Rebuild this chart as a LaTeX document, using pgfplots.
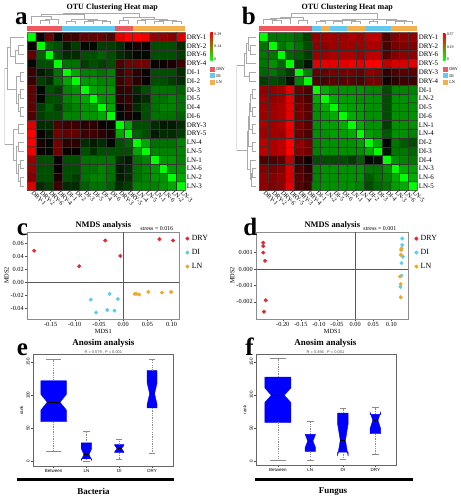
\documentclass[border=0pt]{standalone}
\usepackage{pgfplots}
\pgfplotsset{compat=1.18}
\usepackage{pgfplotstable}
\usepackage{fontspec}
\setmainfont{Liberation Serif}
\newfontfamily\sansf{Liberation Sans}
\newcommand\fs[1]{\fontsize{#1}{#1}\selectfont}
\definecolor{cred}{RGB}{228,40,52}
\definecolor{cblue}{RGB}{95,200,240}
\definecolor{corange}{RGB}{236,168,45}
\definecolor{sred}{RGB}{236,90,96}
\definecolor{sblue}{RGB}{100,200,240}
\definecolor{sorange}{RGB}{242,176,80}
\definecolor{dgray}{RGB}{170,170,170}

\pgfplotstableread{
p h
1 0
1 0.3
2 0.3
2 0
nan nan
1.5 0.3
1.5 0.45
3 0.45
3 0
nan nan
0 0
0 0.7
2.25 0.7
2.25 0.45
nan nan
4 0
4 0.2
5 0.2
5 0
nan nan
6 0
6 0.2
7 0.2
7 0
nan nan
8 0
8 0.2
9 0.2
9 0
nan nan
6.5 0.2
6.5 0.3
8.5 0.3
8.5 0.2
nan nan
4.5 0.2
4.5 0.4
7.5 0.4
7.5 0.3
nan nan
1.125 0.7
1.125 0.85
6 0.85
6 0.4
nan nan
10 0
10 0.3
11 0.3
11 0
nan nan
12 0
12 0.3
13 0.3
13 0
nan nan
14 0
14 0.2
15 0.2
15 0
nan nan
16 0
16 0.2
17 0.2
17 0
nan nan
14.5 0.2
14.5 0.3
16.5 0.3
16.5 0.2
nan nan
12.5 0.3
12.5 0.4
15.5 0.4
15.5 0.3
nan nan
10.5 0.3
10.5 0.55
14 0.55
14 0.4
nan nan
3.5625 0.85
3.5625 1
12.25 1
12.25 0.55
}\treeA

\pgfplotstableread{
p h
1 0
1 0.3
2 0.3
2 0
nan nan
0 0
0 0.4
1.5 0.4
1.5 0.3
nan nan
0.75 0.4
0.75 0.5
3 0.5
3 0
nan nan
4 0
4 0.35
5 0.35
5 0
nan nan
1.875 0.5
1.875 0.62
4.5 0.62
4.5 0.35
nan nan
6 0
6 0.2
7 0.2
7 0
nan nan
8 0
8 0.2
9 0.2
9 0
nan nan
6.5 0.2
6.5 0.28
8.5 0.28
8.5 0.2
nan nan
10 0
10 0.2
11 0.2
11 0
nan nan
7.5 0.28
7.5 0.33
10.5 0.33
10.5 0.2
nan nan
12 0
12 0.2
13 0.2
13 0
nan nan
9 0.33
9 0.38
12.5 0.38
12.5 0.2
nan nan
15 0
15 0.18
16 0.18
16 0
nan nan
15.5 0.18
15.5 0.24
17 0.24
17 0
nan nan
14 0
14 0.3
16.25 0.3
16.25 0.24
nan nan
10.75 0.38
10.75 0.45
15.125 0.45
15.125 0.3
nan nan
3.1875 0.62
3.1875 1
12.9375 1
12.9375 0.45
}\treeB

\pgfplotsset{
  heat/.style={scale only axis, width=120pt, height=120pt, anchor=north west,
    xmin=-0.5, xmax=17.5, ymin=-0.5, ymax=17.5, y dir=reverse, clip=false,
    axis line style={draw=none}, major tick length=0pt,
    xtick={0,...,17}, ytick={0,...,17}, yticklabel pos=right,
    yticklabel style={font=\fs{5.3}, anchor=west, inner sep=1pt},
    xticklabel style={font=\fs{4.8}, rotate=-45, anchor=west, inner sep=0.8pt}},
  dtop/.style={scale only axis, width=120pt, height=8.25pt, anchor=north west,
    xmin=-0.5, xmax=17.5, ymin=0, ymax=1, hide axis, unbounded coords=jump},
  dleft/.style={scale only axis, width=15pt, height=120pt, anchor=north west,
    xmin=0, xmax=1, x dir=reverse, ymin=-0.5, ymax=17.5, y dir=reverse, hide axis, unbounded coords=jump},
  nmds/.style={scale only axis, width=115.5pt, height=66pt, anchor=north west,
    axis line style={black!45}, tick style={black!70, line width=0.3pt}, tick align=outside,
    xtick pos=bottom, ytick pos=left, major tick length=1.5pt,
    scaled ticks=false, /pgf/number format/assume math mode=true,
    ticklabel style={font=\fs{4.8}, inner sep=1pt},
    xlabel=MDS1, ylabel=MDS2, label style={font=\fs{4.8}},
    xlabel style={yshift=3pt}, ylabel style={yshift=-3pt},
    legend cell align=left,
    legend style={draw=none, fill=none, inner sep=0pt, font=\fs{6}, row sep=1.2pt,
      at={(1.04,1.0)}, anchor=north west},
    legend image code/.code={\draw[#1] plot coordinates {(0.06cm,0cm)};}},
  boxp/.style={scale only axis, width=106.5pt, anchor=north west,
    axis line style={black!60, line width=0.35pt}, tick style={black!70, line width=0.3pt},
    tick align=outside, xtick pos=bottom, ytick pos=left, major tick length=1.5pt,
    xtick={1,2,3,4}, xticklabels={Between,LN,DI,DRY}, ytick={0,50,100,150},
    /pgf/number format/assume math mode=true,
    ticklabel style={font=\sansf\fs{3.4}, inner sep=1pt},
    yticklabel style={rotate=90, anchor=south},
    ylabel=rank, ylabel style={font=\sansf\fs{3.4}, yshift=-2pt},
    unbounded coords=jump},
}

\begin{document}
\begin{tikzpicture}
\begin{scope}[x=0.75pt,y=-0.75pt]
\useasboundingbox (0,0) rectangle (464,500);
\end{scope}

% ================= panel a =================
\begin{axis}[dtop, at={(18.75pt,-7.5pt)}]
\addplot[dgray, line width=0.6pt, no marks] table[x=p,y=h]{\treeA};
\end{axis}
\begin{axis}[dleft, at={(1.5pt,-22.5pt)}]
\addplot[dgray, line width=0.6pt, no marks] table[x=h,y=p]{\treeA};
\end{axis}
\begin{axis}[heat, at={(18.75pt,-22.5pt)},
  xticklabels={DRY-1,DRY-2,DRY-6,DRY-4,DI-1,DI-2,DI-3,DI-5,DI-4,DI-6,DRY-3,DRY-5,LN-4,LN-5,LN-1,LN-6,LN-2,LN-3},
  yticklabels={DRY-1,DRY-2,DRY-6,DRY-4,DI-1,DI-2,DI-3,DI-5,DI-4,DI-6,DRY-3,DRY-5,LN-4,LN-5,LN-1,LN-6,LN-2,LN-3},
  colormap={gbr}{rgb255=(0,255,0) rgb255=(0,0,0) rgb255=(255,0,0)},
  point meta min=0, point meta max=0.29]
\addplot[matrix plot*, mesh/cols=18, point meta=explicit, shader=faceted, faceted color=black!80, line width=0.4pt] coordinates {
(0,0)[0] (1,0)[0.15] (2,0)[0.20] (3,0)[0.14] (4,0)[0.18] (5,0)[0.18] (6,0)[0.20] (7,0)[0.20] (8,0)[0.20] (9,0)[0.19] (10,0)[0.27] (11,0)[0.29] (12,0)[0.29] (13,0)[0.28] (14,0)[0.23] (15,0)[0.23] (16,0)[0.22] (17,0)[0.27]
(0,1)[0.15] (1,1)[0] (2,1)[0.09] (3,1)[0.10] (4,1)[0.13] (5,1)[0.11] (6,1)[0.14] (7,1)[0.14] (8,1)[0.11] (9,1)[0.11] (10,1)[0.12] (11,1)[0.15] (12,1)[0.16] (13,1)[0.15] (14,1)[0.10] (15,1)[0.10] (16,1)[0.10] (17,1)[0.12]
(0,2)[0.20] (1,2)[0.09] (2,2)[0] (3,2)[0.10] (4,2)[0.12] (5,2)[0.12] (6,2)[0.10] (7,2)[0.10] (8,2)[0.09] (9,2)[0.10] (10,2)[0.12] (11,2)[0.13] (12,2)[0.14] (13,2)[0.14] (14,2)[0.10] (15,2)[0.10] (16,2)[0.10] (17,2)[0.11]
(0,3)[0.14] (1,3)[0.10] (2,3)[0.10] (3,3)[0] (4,3)[0.08] (5,3)[0.08] (6,3)[0.11] (7,3)[0.10] (8,3)[0.11] (9,3)[0.10] (10,3)[0.19] (11,3)[0.21] (12,3)[0.21] (13,3)[0.21] (14,3)[0.15] (15,3)[0.15] (16,3)[0.16] (17,3)[0.18]
(0,4)[0.18] (1,4)[0.13] (2,4)[0.12] (3,4)[0.08] (4,4)[0] (5,4)[0.05] (6,4)[0.07] (7,4)[0.07] (8,4)[0.08] (9,4)[0.07] (10,4)[0.18] (11,4)[0.20] (12,4)[0.17] (13,4)[0.15] (14,4)[0.10] (15,4)[0.10] (16,4)[0.10] (17,4)[0.12]
(0,5)[0.18] (1,5)[0.11] (2,5)[0.12] (3,5)[0.08] (4,5)[0.05] (5,5)[0] (6,5)[0.06] (7,5)[0.06] (8,5)[0.07] (9,5)[0.07] (10,5)[0.18] (11,5)[0.20] (12,5)[0.17] (13,5)[0.15] (14,5)[0.10] (15,5)[0.10] (16,5)[0.11] (17,5)[0.12]
(0,6)[0.20] (1,6)[0.14] (2,6)[0.10] (3,6)[0.11] (4,6)[0.07] (5,6)[0.06] (6,6)[0] (7,6)[0.05] (8,6)[0.06] (9,6)[0.06] (10,6)[0.17] (11,6)[0.18] (12,6)[0.12] (13,6)[0.10] (14,6)[0.08] (15,6)[0.08] (16,6)[0.08] (17,6)[0.09]
(0,7)[0.20] (1,7)[0.14] (2,7)[0.10] (3,7)[0.10] (4,7)[0.07] (5,7)[0.06] (6,7)[0.05] (7,7)[0] (8,7)[0.06] (9,7)[0.06] (10,7)[0.17] (11,7)[0.18] (12,7)[0.13] (13,7)[0.12] (14,7)[0.08] (15,7)[0.08] (16,7)[0.07] (17,7)[0.08]
(0,8)[0.20] (1,8)[0.11] (2,8)[0.09] (3,8)[0.11] (4,8)[0.08] (5,8)[0.07] (6,8)[0.06] (7,8)[0.06] (8,8)[0] (9,8)[0.05] (10,8)[0.15] (11,8)[0.17] (12,8)[0.12] (13,8)[0.10] (14,8)[0.08] (15,8)[0.07] (16,8)[0.07] (17,8)[0.08]
(0,9)[0.19] (1,9)[0.11] (2,9)[0.10] (3,9)[0.10] (4,9)[0.07] (5,9)[0.07] (6,9)[0.06] (7,9)[0.06] (8,9)[0.05] (9,9)[0] (10,9)[0.14] (11,9)[0.16] (12,9)[0.14] (13,9)[0.10] (14,9)[0.08] (15,9)[0.08] (16,9)[0.08] (17,9)[0.09]
(0,10)[0.27] (1,10)[0.12] (2,10)[0.12] (3,10)[0.19] (4,10)[0.18] (5,10)[0.18] (6,10)[0.17] (7,10)[0.17] (8,10)[0.15] (9,10)[0.14] (10,10)[0] (11,10)[0.05] (12,10)[0.10] (13,10)[0.10] (14,10)[0.12] (15,10)[0.13] (16,10)[0.13] (17,10)[0.12]
(0,11)[0.29] (1,11)[0.15] (2,11)[0.13] (3,11)[0.21] (4,11)[0.20] (5,11)[0.20] (6,11)[0.18] (7,11)[0.18] (8,11)[0.17] (9,11)[0.16] (10,11)[0.05] (11,11)[0] (12,11)[0.09] (13,11)[0.10] (14,11)[0.13] (15,11)[0.12] (16,11)[0.12] (17,11)[0.11]
(0,12)[0.29] (1,12)[0.16] (2,12)[0.14] (3,12)[0.21] (4,12)[0.17] (5,12)[0.17] (6,12)[0.12] (7,12)[0.13] (8,12)[0.12] (9,12)[0.14] (10,12)[0.10] (11,12)[0.09] (12,12)[0] (13,12)[0.05] (14,12)[0.08] (15,12)[0.08] (16,12)[0.08] (17,12)[0.07]
(0,13)[0.28] (1,13)[0.15] (2,13)[0.14] (3,13)[0.21] (4,13)[0.15] (5,13)[0.15] (6,13)[0.10] (7,13)[0.12] (8,13)[0.10] (9,13)[0.10] (10,13)[0.10] (11,13)[0.10] (12,13)[0.05] (13,13)[0] (14,13)[0.07] (15,13)[0.07] (16,13)[0.07] (17,13)[0.07]
(0,14)[0.23] (1,14)[0.10] (2,14)[0.10] (3,14)[0.15] (4,14)[0.10] (5,14)[0.10] (6,14)[0.08] (7,14)[0.08] (8,14)[0.08] (9,14)[0.08] (10,14)[0.12] (11,14)[0.13] (12,14)[0.08] (13,14)[0.07] (14,14)[0] (15,14)[0.06] (16,14)[0.06] (17,14)[0.07]
(0,15)[0.23] (1,15)[0.10] (2,15)[0.10] (3,15)[0.15] (4,15)[0.10] (5,15)[0.10] (6,15)[0.08] (7,15)[0.08] (8,15)[0.07] (9,15)[0.08] (10,15)[0.13] (11,15)[0.12] (12,15)[0.08] (13,15)[0.07] (14,15)[0.06] (15,15)[0] (16,15)[0.06] (17,15)[0.06]
(0,16)[0.22] (1,16)[0.10] (2,16)[0.10] (3,16)[0.16] (4,16)[0.10] (5,16)[0.11] (6,16)[0.08] (7,16)[0.07] (8,16)[0.07] (9,16)[0.08] (10,16)[0.13] (11,16)[0.12] (12,16)[0.08] (13,16)[0.07] (14,16)[0.06] (15,16)[0.06] (16,16)[0] (17,16)[0.05]
(0,17)[0.27] (1,17)[0.12] (2,17)[0.11] (3,17)[0.18] (4,17)[0.12] (5,17)[0.12] (6,17)[0.09] (7,17)[0.08] (8,17)[0.08] (9,17)[0.09] (10,17)[0.12] (11,17)[0.11] (12,17)[0.07] (13,17)[0.07] (14,17)[0.07] (15,17)[0.06] (16,17)[0.05] (17,17)[0]
};
\addplot[sred, line width=3.75pt] coordinates {(-0.5,-1.01) (3.5,-1.01)};
\addplot[sblue, line width=3.75pt] coordinates {(3.5,-1.01) (9.5,-1.01)};
\addplot[sred, line width=3.75pt] coordinates {(9.5,-1.01) (11.5,-1.01)};
\addplot[sorange, line width=3.75pt] coordinates {(11.5,-1.01) (17.5,-1.01)};
\end{axis}

% ================= panel b =================
\begin{axis}[dtop, at={(195pt,-7.5pt)}]
\addplot[dgray, line width=0.6pt, no marks] table[x=p,y=h]{\treeB};
\end{axis}
\begin{axis}[dleft, at={(177.75pt,-22.5pt)}]
\addplot[dgray, line width=0.6pt, no marks] table[x=h,y=p]{\treeB};
\end{axis}
\begin{axis}[heat, at={(195pt,-22.5pt)},
  xticklabels={DRY-1,DRY-2,DRY-6,DRY-5,DRY-3,DRY-4,DI-1,LN-2,DI-5,DI-6,LN-1,LN-4,DI-2,DI-3,DI-4,LN-3,LN-6,LN-5},
  yticklabels={DRY-1,DRY-2,DRY-6,DRY-5,DRY-3,DRY-4,DI-1,LN-2,DI-5,DI-6,LN-1,LN-4,DI-2,DI-3,DI-4,LN-3,LN-6,LN-5},
  colormap={gbr}{rgb255=(0,255,0) rgb255=(0,0,0) rgb255=(255,0,0)},
  point meta min=0, point meta max=0.37]
\addplot[matrix plot*, mesh/cols=18, point meta=explicit, shader=faceted, faceted color=black!80, line width=0.4pt] coordinates {
(0,0)[0] (1,0)[0.10] (2,0)[0.10] (3,0)[0.10] (4,0)[0.11] (5,0)[0.14] (6,0)[0.29] (7,0)[0.30] (8,0)[0.30] (9,0)[0.30] (10,0)[0.31] (11,0)[0.30] (12,0)[0.32] (13,0)[0.32] (14,0)[0.24] (15,0)[0.28] (16,0)[0.29] (17,0)[0.29]
(0,1)[0.10] (1,1)[0] (2,1)[0.10] (3,1)[0.08] (4,1)[0.10] (5,1)[0.13] (6,1)[0.29] (7,1)[0.29] (8,1)[0.30] (9,1)[0.30] (10,1)[0.30] (11,1)[0.30] (12,1)[0.31] (13,1)[0.31] (14,1)[0.24] (15,1)[0.27] (16,1)[0.28] (17,1)[0.28]
(0,2)[0.10] (1,2)[0.10] (2,2)[0] (3,2)[0.11] (4,2)[0.12] (5,2)[0.14] (6,2)[0.30] (7,2)[0.30] (8,2)[0.31] (9,2)[0.31] (10,2)[0.31] (11,2)[0.30] (12,2)[0.32] (13,2)[0.32] (14,2)[0.25] (15,2)[0.28] (16,2)[0.29] (17,2)[0.29]
(0,3)[0.10] (1,3)[0.08] (2,3)[0.11] (3,3)[0] (4,3)[0.14] (5,3)[0.17] (6,3)[0.35] (7,3)[0.35] (8,3)[0.35] (9,3)[0.35] (10,3)[0.36] (11,3)[0.35] (12,3)[0.37] (13,3)[0.37] (14,3)[0.32] (15,3)[0.34] (16,3)[0.34] (17,3)[0.35]
(0,4)[0.11] (1,4)[0.10] (2,4)[0.12] (3,4)[0.14] (4,4)[0] (5,4)[0.09] (6,4)[0.26] (7,4)[0.26] (8,4)[0.27] (9,4)[0.27] (10,4)[0.27] (11,4)[0.26] (12,4)[0.29] (13,4)[0.28] (14,4)[0.22] (15,4)[0.24] (16,4)[0.25] (17,4)[0.25]
(0,5)[0.14] (1,5)[0.13] (2,5)[0.14] (3,5)[0.17] (4,5)[0.09] (5,5)[0] (6,5)[0.24] (7,5)[0.24] (8,5)[0.25] (9,5)[0.25] (10,5)[0.25] (11,5)[0.24] (12,5)[0.27] (13,5)[0.27] (14,5)[0.20] (15,5)[0.22] (16,5)[0.23] (17,5)[0.23]
(0,6)[0.29] (1,6)[0.29] (2,6)[0.30] (3,6)[0.35] (4,6)[0.26] (5,6)[0.24] (6,6)[0] (7,6)[0.06] (8,6)[0.08] (9,6)[0.08] (10,6)[0.08] (11,6)[0.08] (12,6)[0.09] (13,6)[0.09] (14,6)[0.13] (15,6)[0.09] (16,6)[0.09] (17,6)[0.09]
(0,7)[0.30] (1,7)[0.29] (2,7)[0.30] (3,7)[0.35] (4,7)[0.26] (5,7)[0.24] (6,7)[0.06] (7,7)[0] (8,7)[0.06] (9,7)[0.07] (10,7)[0.07] (11,7)[0.08] (12,7)[0.08] (13,7)[0.08] (14,7)[0.13] (15,7)[0.08] (16,7)[0.08] (17,7)[0.08]
(0,8)[0.30] (1,8)[0.30] (2,8)[0.31] (3,8)[0.35] (4,8)[0.27] (5,8)[0.25] (6,8)[0.08] (7,8)[0.06] (8,8)[0] (9,8)[0.06] (10,8)[0.07] (11,8)[0.07] (12,8)[0.08] (13,8)[0.08] (14,8)[0.13] (15,8)[0.08] (16,8)[0.08] (17,8)[0.08]
(0,9)[0.30] (1,9)[0.30] (2,9)[0.31] (3,9)[0.35] (4,9)[0.27] (5,9)[0.25] (6,9)[0.08] (7,9)[0.07] (8,9)[0.06] (9,9)[0] (10,9)[0.06] (11,9)[0.07] (12,9)[0.08] (13,9)[0.08] (14,9)[0.13] (15,9)[0.08] (16,9)[0.08] (17,9)[0.08]
(0,10)[0.31] (1,10)[0.30] (2,10)[0.31] (3,10)[0.36] (4,10)[0.27] (5,10)[0.25] (6,10)[0.08] (7,10)[0.07] (8,10)[0.07] (9,10)[0.06] (10,10)[0] (11,10)[0.06] (12,10)[0.08] (13,10)[0.08] (14,10)[0.14] (15,10)[0.08] (16,10)[0.08] (17,10)[0.08]
(0,11)[0.30] (1,11)[0.30] (2,11)[0.30] (3,11)[0.35] (4,11)[0.26] (5,11)[0.24] (6,11)[0.08] (7,11)[0.08] (8,11)[0.07] (9,11)[0.07] (10,11)[0.06] (11,11)[0] (12,11)[0.07] (13,11)[0.08] (14,11)[0.12] (15,11)[0.08] (16,11)[0.08] (17,11)[0.09]
(0,12)[0.32] (1,12)[0.31] (2,12)[0.32] (3,12)[0.37] (4,12)[0.29] (5,12)[0.27] (6,12)[0.09] (7,12)[0.08] (8,12)[0.08] (9,12)[0.08] (10,12)[0.08] (11,12)[0.07] (12,12)[0] (13,12)[0.06] (14,12)[0.18] (15,12)[0.10] (16,12)[0.12] (17,12)[0.13]
(0,13)[0.32] (1,13)[0.31] (2,13)[0.32] (3,13)[0.37] (4,13)[0.28] (5,13)[0.27] (6,13)[0.09] (7,13)[0.08] (8,13)[0.08] (9,13)[0.08] (10,13)[0.08] (11,13)[0.08] (12,13)[0.06] (13,13)[0] (14,13)[0.17] (15,13)[0.10] (16,13)[0.10] (17,13)[0.11]
(0,14)[0.24] (1,14)[0.24] (2,14)[0.25] (3,14)[0.32] (4,14)[0.22] (5,14)[0.20] (6,14)[0.13] (7,14)[0.13] (8,14)[0.13] (9,14)[0.13] (10,14)[0.14] (11,14)[0.12] (12,14)[0.18] (13,14)[0.17] (14,14)[0] (15,14)[0.08] (16,14)[0.09] (17,14)[0.10]
(0,15)[0.28] (1,15)[0.27] (2,15)[0.28] (3,15)[0.34] (4,15)[0.24] (5,15)[0.22] (6,15)[0.09] (7,15)[0.08] (8,15)[0.08] (9,15)[0.08] (10,15)[0.08] (11,15)[0.08] (12,15)[0.10] (13,15)[0.10] (14,15)[0.08] (15,15)[0] (16,15)[0.06] (17,15)[0.07]
(0,16)[0.29] (1,16)[0.28] (2,16)[0.29] (3,16)[0.34] (4,16)[0.25] (5,16)[0.23] (6,16)[0.09] (7,16)[0.08] (8,16)[0.08] (9,16)[0.08] (10,16)[0.08] (11,16)[0.08] (12,16)[0.12] (13,16)[0.10] (14,16)[0.09] (15,16)[0.06] (16,16)[0] (17,16)[0.06]
(0,17)[0.29] (1,17)[0.28] (2,17)[0.29] (3,17)[0.35] (4,17)[0.25] (5,17)[0.23] (6,17)[0.09] (7,17)[0.08] (8,17)[0.08] (9,17)[0.08] (10,17)[0.08] (11,17)[0.09] (12,17)[0.13] (13,17)[0.11] (14,17)[0.10] (15,17)[0.07] (16,17)[0.06] (17,17)[0]
};
\addplot[sred, line width=3.75pt] coordinates {(-0.5,-1.01) (5.5,-1.01)};
\addplot[sblue, line width=3.75pt] coordinates {(5.5,-1.01) (6.5,-1.01)};
\addplot[sorange, line width=3.75pt] coordinates {(6.5,-1.01) (7.5,-1.01)};
\addplot[sblue, line width=3.75pt] coordinates {(7.5,-1.01) (9.5,-1.01)};
\addplot[sorange, line width=3.75pt] coordinates {(9.5,-1.01) (11.5,-1.01)};
\addplot[sblue, line width=3.75pt] coordinates {(11.5,-1.01) (14.5,-1.01)};
\addplot[sorange, line width=3.75pt] coordinates {(14.5,-1.01) (17.5,-1.01)};
\end{axis}

% ================= panel c =================
\begin{axis}[nmds, at={(18.75pt,-174pt)},
  xmin=-0.198, xmax=0.116, ymin=-0.057, ymax=0.078,
  xtick={-0.15,-0.1,-0.05,0,0.05,0.1}, ytick={-0.04,-0.02,0,0.02,0.04,0.06},
  xticklabel style={/pgf/number format/.cd, fixed, fixed zerofill, precision=2},
  yticklabel style={/pgf/number format/.cd, fixed, fixed zerofill, precision=2}]
\addplot[only marks, mark=*, mark size=1.3pt, cred, mark options={draw=cred, fill=cred}] coordinates {(-0.184,0.049) (-0.037,0.065) (0.075,0.067) (0.103,0.065) (-0.091,0.025) (-0.006,0.041)};
\addplot[only marks, mark=*, mark size=1.3pt, cblue, mark options={draw=cblue, fill=cblue}] coordinates {(-0.067,-0.027) (-0.028,-0.018) (-0.011,-0.026) (-0.056,-0.047) (-0.033,-0.043) (-0.018,-0.044)};
\addplot[only marks, mark=*, mark size=1.3pt, corange, mark options={draw=corange, fill=corange}] coordinates {(0.024,-0.018) (0.027,-0.018) (0.033,-0.019) (0.052,-0.015) (0.080,-0.016) (0.099,-0.015)};
\addplot[black!65, line width=0.4pt, forget plot] coordinates {(0,-0.057) (0,0.078)};
\addplot[black!65, line width=0.4pt, forget plot] coordinates {(-0.198,0) (0.116,0)};
\legend{DRY,DI,LN}
\end{axis}

% ================= panel d =================
\begin{axis}[nmds, at={(192.75pt,-174pt)},
  xmin=-0.273, xmax=0.147, ymin=-0.00304, ymax=0.00225,
  xtick={-0.2,-0.15,-0.1,-0.05,0,0.05,0.1}, ytick={-0.002,-0.001,0,0.001},
  xticklabel style={/pgf/number format/.cd, fixed, fixed zerofill, precision=2},
  yticklabel style={/pgf/number format/.cd, fixed, fixed zerofill, precision=3}]
\addplot[only marks, mark=*, mark size=1.3pt, cred, mark options={draw=cred, fill=cred}] coordinates {(-0.254,0.0016) (-0.254,0.0014) (-0.254,0.0010) (-0.249,0.0005) (-0.247,-0.0019) (-0.252,-0.0026)};
\addplot[only marks, mark=*, mark size=1.3pt, cblue, mark options={draw=cblue, fill=cblue}] coordinates {(0.130,0.00186) (0.130,0.00146) (0.132,0.00075) (0.128,0.00036) (0.128,-0.0004) (0.125,-0.00108)};
\addplot[only marks, mark=*, mark size=1.3pt, corange, mark options={draw=corange, fill=corange}] coordinates {(0.127,0.00116) (0.128,0.00125) (0.126,0.00087) (0.124,-0.00046) (0.126,-0.00092) (0.126,-0.00172)};
\addplot[black!65, line width=0.4pt, forget plot] coordinates {(0,-0.00304) (0,0.00225)};
\addplot[black!65, line width=0.4pt, forget plot] coordinates {(-0.273,0) (0.147,0)};
\legend{DRY,DI,LN}
\end{axis}

% ================= panel e =================
\begin{axis}[boxp, at={(23.25pt,-267pt)}, height=84.75pt, xmin=0.38, xmax=4.65, ymin=-7, ymax=161.6]
\addplot[fill=blue, draw=blue, line width=0.3pt] coordinates {(0.61,60) (0.61,77.5) (0.805,89.5) (0.61,101.5) (0.61,122) (1.39,122) (1.39,101.5) (1.195,89.5) (1.39,77.5) (1.39,60)} -- cycle;
\addplot[fill=blue, draw=blue, line width=0.3pt] coordinates {(1.84,4) (1.84,1.5) (1.92,10.5) (1.84,19.5) (1.84,28) (2.16,28) (2.16,19.5) (2.08,10.5) (2.16,1.5) (2.16,4)} -- cycle;
\addplot[fill=blue, draw=blue, line width=0.3pt] coordinates {(2.86,13.4) (2.86,14.4) (2.93,19.4) (2.86,24.4) (2.86,25.4) (3.14,25.4) (3.14,24.4) (3.07,19.4) (3.14,14.4) (3.14,13.4)} -- cycle;
\addplot[fill=blue, draw=blue, line width=0.3pt] coordinates {(3.85,81) (3.85,86.4) (3.925,102.4) (3.85,118.4) (3.85,137.3) (4.15,137.3) (4.15,118.4) (4.075,102.4) (4.15,86.4) (4.15,81)} -- cycle;
\addplot[black, line width=0.7pt] coordinates {(0.805,89.5) (1.195,89.5) (nan,nan) (1.92,10.5) (2.08,10.5) (nan,nan) (2.93,19.4) (3.07,19.4) (nan,nan) (3.925,102.4) (4.075,102.4)};
\addplot[black!45, line width=0.3pt, dash pattern=on 1pt off 0.8pt] coordinates {(1,122) (1,154) (nan,nan) (1,60) (1,15.4) (nan,nan) (2,28) (2,45) (nan,nan) (2,4) (2,0.5) (nan,nan) (3,25.4) (3,34.3) (nan,nan) (3,13.4) (3,3.4) (nan,nan) (4,137.3) (4,154) (nan,nan) (4,81) (4,12)};
\addplot[black!45, line width=0.3pt] coordinates {(0.77,154) (1.23,154) (nan,nan) (0.77,15.4) (1.23,15.4) (nan,nan) (1.9,45) (2.1,45) (nan,nan) (1.9,0.5) (2.1,0.5) (nan,nan) (2.91,34.3) (3.09,34.3) (nan,nan) (2.91,3.4) (3.09,3.4) (nan,nan) (3.91,154) (4.09,154) (nan,nan) (3.91,12) (4.09,12)};
\end{axis}

% ================= panel f =================
\begin{axis}[boxp, at={(192.75pt,-267pt)}, height=84.2pt, xmin=0.34, xmax=4.65, ymin=-6, ymax=161.6]
\addplot[fill=blue, draw=blue, line width=0.3pt] coordinates {(0.6,59) (0.6,89) (0.8,100) (0.6,111) (0.6,127.3) (1.4,127.3) (1.4,111) (1.2,100) (1.4,89) (1.4,59)} -- cycle;
\addplot[fill=blue, draw=blue, line width=0.3pt] coordinates {(1.84,15) (1.84,20.8) (1.92,30.8) (1.84,40.8) (1.84,40.7) (2.16,40.7) (2.16,40.8) (2.08,30.8) (2.16,20.8) (2.16,15)} -- cycle;
\addplot[fill=blue, draw=blue, line width=0.3pt] coordinates {(2.84,14) (2.84,8) (2.92,32) (2.84,56) (2.84,73) (3.16,73) (3.16,56) (3.08,32) (3.16,8) (3.16,14)} -- cycle;
\addplot[fill=blue, draw=blue, line width=0.3pt] coordinates {(3.84,41.8) (3.84,50) (3.92,62) (3.84,74) (3.84,71) (4.16,71) (4.16,74) (4.08,62) (4.16,50) (4.16,41.8)} -- cycle;
\addplot[black, line width=0.7pt] coordinates {(0.8,100) (1.2,100) (nan,nan) (1.92,30.8) (2.08,30.8) (nan,nan) (2.92,32) (3.08,32) (nan,nan) (3.92,62) (4.08,62)};
\addplot[black!45, line width=0.3pt, dash pattern=on 1pt off 0.8pt] coordinates {(1,127.3) (1,155.7) (nan,nan) (1,59) (1,1) (nan,nan) (2,40.7) (2,60.6) (nan,nan) (2,15) (2,2) (nan,nan) (3,73) (3,81) (nan,nan) (3,14) (3,4) (nan,nan) (4,71) (4,82) (nan,nan) (4,41.8) (4,11.4)};
\addplot[black!45, line width=0.3pt] coordinates {(0.76,155.7) (1.24,155.7) (nan,nan) (0.76,1) (1.24,1) (nan,nan) (1.9,60.6) (2.1,60.6) (nan,nan) (1.9,2) (2.1,2) (nan,nan) (2.9,81) (3.1,81) (nan,nan) (2.9,4) (3.1,4) (nan,nan) (3.9,82) (4.1,82) (nan,nan) (3.9,11.4) (4.1,11.4)};
\end{axis}

% ================= annotations =================
\begin{scope}[x=0.75pt,y=-0.75pt]
\node[font=\bfseries\fs{19}, anchor=base] at (19,22) {a};
\node[font=\bfseries\fs{6.1}] at (111,5) {OTU Clustering Heat map};
\shade[top color=red, middle color=black, bottom color=green] (210.5,30) rectangle (213,58);
\node[font=\fs{3}, anchor=west, inner sep=0.5pt] at (213.5,31) {0.29};
\node[font=\fs{3}, anchor=west, inner sep=0.5pt] at (213.5,44) {0.14};
\node[font=\fs{3}, anchor=west, inner sep=0.5pt] at (213.5,57) {0};
\fill[sred] (210,64.5) rectangle (215,69.5);
\fill[sblue] (210,71) rectangle (215,76);
\fill[sorange] (210,77.5) rectangle (215,82.5);
\node[font=\fs{3.2}, anchor=west, inner sep=0.5pt] at (215.5,67) {DRY};
\node[font=\fs{3.2}, anchor=west, inner sep=0.5pt] at (215.5,73.5) {DI};
\node[font=\fs{3.2}, anchor=west, inner sep=0.5pt] at (215.5,80) {LN};

\node[font=\bfseries\fs{19}, anchor=base] at (249.5,22) {b};
\node[font=\bfseries\fs{6.1}] at (349,5) {OTU Clustering Heat map};
\shade[top color=red, middle color=black, bottom color=green] (446,31) rectangle (448.5,58);
\node[font=\fs{3}, anchor=west, inner sep=0.5pt] at (449,32) {0.37};
\node[font=\fs{3}, anchor=west, inner sep=0.5pt] at (449,44.5) {0.19};
\node[font=\fs{3}, anchor=west, inner sep=0.5pt] at (449,57) {0};
\fill[sred] (446,64.5) rectangle (451,69.5);
\fill[sblue] (446,71) rectangle (451,76);
\fill[sorange] (446,77.5) rectangle (451,82.5);
\node[font=\fs{3.2}, anchor=west, inner sep=0.5pt] at (451.5,67) {DRY};
\node[font=\fs{3.2}, anchor=west, inner sep=0.5pt] at (451.5,73.5) {DI};
\node[font=\fs{3.2}, anchor=west, inner sep=0.5pt] at (451.5,80) {LN};

\node[font=\bfseries\fs{19}, anchor=base] at (20,235) {c};
\node[font=\bfseries\fs{6.4}] at (102,225) {NMDS analysis};
\node[font=\fs{4.5}, anchor=base east, inner sep=0pt] at (173,230.5) {stress = 0.016};
\node[font=\bfseries\fs{19}, anchor=base] at (251,235) {d};
\node[font=\bfseries\fs{6.4}] at (334,225) {NMDS analysis};
\node[font=\fs{4.5}, anchor=base east, inner sep=0pt] at (399,230.5) {stress = 0.001};

\node[font=\bfseries\fs{19}, anchor=base] at (20,357) {e};
\node[font=\bfseries\fs{6.8}] at (102,345) {Anosim analysis};
\node[font=\sansf\fs{3}, text=black!70] at (102,353.5) {R = 0.579 , P = 0.001};
\draw[line width=2.25pt] (14,482.7) -- (173.3,482.7);
\node[font=\bfseries\fs{6.8}] at (92,495) {Bacteria};

\node[font=\bfseries\fs{19}, anchor=base] at (250,357) {f};
\node[font=\bfseries\fs{6.8}] at (327,344.5) {Anosim analysis};
\node[font=\sansf\fs{3}, text=black!70] at (327,354) {R = 0.456 , P = 0.001};
\draw[line width=2.25pt] (256,482.7) -- (416,482.7);
\node[font=\bfseries\fs{6.8}] at (334.7,495) {Fungus};
\end{scope}
\end{tikzpicture}
\end{document}
